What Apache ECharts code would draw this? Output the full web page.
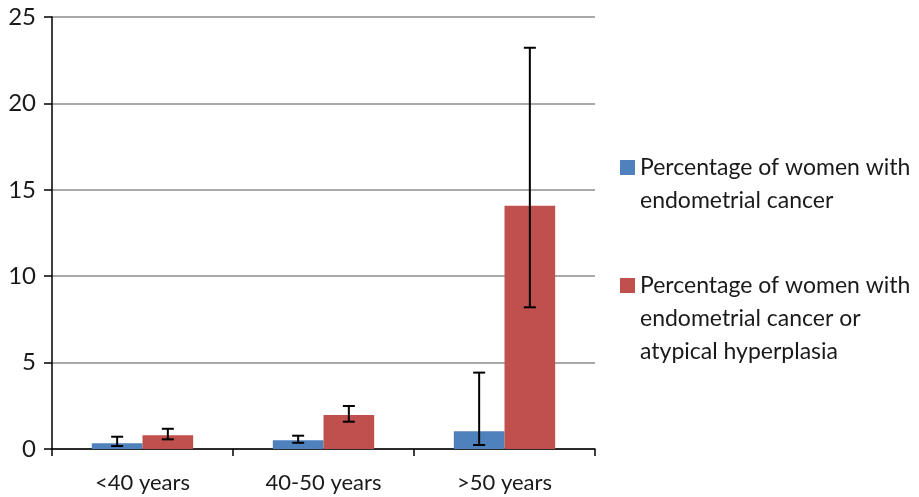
<!DOCTYPE html>
<html>
<head>
<meta charset="utf-8">
<script src="https://cdn.jsdelivr.net/npm/echarts@6/dist/echarts.min.js"></script>
<style>html,body{margin:0;padding:0;background:#fff}#c{width:919px;height:497px}</style>
</head>
<body>
<div id="c"></div>
<script>
var categories = ['<40 years', '40-50 years', '>50 years'];
var seriesNames = ['Percentage of women with\nendometrial cancer', 'Percentage of women with\nendometrial cancer or\natypical hyperplasia'];
var cancer = [0.33, 0.50, 1.02];
var cancerLow = [0.17, 0.36, 0.23];
var cancerHigh = [0.71, 0.77, 4.42];
var cancerOrHyper = [0.79, 1.97, 14.08];
var cancerOrHyperLow = [0.56, 1.58, 8.20];
var cancerOrHyperHigh = [1.17, 2.49, 23.22];
var yTicks = [0, 5, 10, 15, 20, 25];

var FONT = 'Lato';
var chart = echarts.init(document.getElementById('c'), null, {renderer: 'canvas'});

function errData(lo, hi) {
  return categories.map(function (c, i) { return [i, lo[i], hi[i]]; });
}
function errSeries(lo, hi, side) {
  return {
    type: 'custom',
    silent: true,
    z: 10,
    data: errData(lo, hi),
    encode: {x: 0, y: [1, 2]},
    renderItem: function (params, api) {
      var band = api.size([1, 0])[0];
      var off = side * band * 0.14;
      var p1 = api.coord([api.value(0), api.value(1)]);
      var p2 = api.coord([api.value(0), api.value(2)]);
      var x = p1[0] + off;
      var cap = 6;
      var st = {stroke: '#000', lineWidth: 2};
      return {
        type: 'group',
        children: [
          {type: 'line', shape: {x1: x, y1: p1[1], x2: x, y2: p2[1]}, style: st},
          {type: 'line', shape: {x1: x - cap, y1: p1[1], x2: x + cap, y2: p1[1]}, style: st},
          {type: 'line', shape: {x1: x - cap, y1: p2[1], x2: x + cap, y2: p2[1]}, style: st}
        ]
      };
    }
  };
}

// prepend blank lines so the icon lines up with the first text line
function topAligned(name) {
  var n = name.split('\n').length;
  return new Array(n).join('\n') + name;
}

var legendText = {fontFamily: FONT, fontSize: 23, color: '#1a1a1a', lineHeight: 33};

chart.setOption({
  animation: false,
  color: ['#4F81BD', '#C0504D'],
  grid: {left: 52, right: 324, top: 17, bottom: 48, containLabel: false},
  legend: [
    {
      data: [seriesNames[0]],
      formatter: topAligned,
      left: 615, top: 113,
      icon: 'rect', itemWidth: 15, itemHeight: 15, itemGap: 5,
      textStyle: legendText, selectedMode: false
    },
    {
      data: [seriesNames[1]],
      formatter: topAligned,
      left: 615, top: 198,
      icon: 'rect', itemWidth: 15, itemHeight: 15, itemGap: 5,
      textStyle: legendText, selectedMode: false
    }
  ],
  xAxis: {
    type: 'category',
    data: categories,
    axisLine: {lineStyle: {color: '#000', width: 1.5}},
    axisTick: {show: true, length: 7, lineStyle: {color: '#000', width: 1.5}},
    axisLabel: {fontFamily: FONT, fontSize: 22, color: '#1a1a1a', margin: 23}
  },
  yAxis: {
    type: 'value',
    min: yTicks[0], max: yTicks[yTicks.length - 1], interval: 5,
    axisLine: {show: true, lineStyle: {color: '#000', width: 1.5}},
    axisTick: {show: true, length: 8, lineStyle: {color: '#000', width: 1.5}},
    axisLabel: {fontFamily: FONT, fontSize: 24, color: '#1a1a1a', margin: 16},
    splitLine: {lineStyle: {color: '#8c8c8c', width: 1.5}}
  },
  series: [
    {name: seriesNames[0], type: 'bar', data: cancer, barWidth: '28%', barGap: '0%'},
    {name: seriesNames[1], type: 'bar', data: cancerOrHyper, barWidth: '28%', barGap: '0%'},
    errSeries(cancerLow, cancerHigh, -1),
    errSeries(cancerOrHyperLow, cancerOrHyperHigh, 1)
  ]
});
</script>
</body>
</html>
